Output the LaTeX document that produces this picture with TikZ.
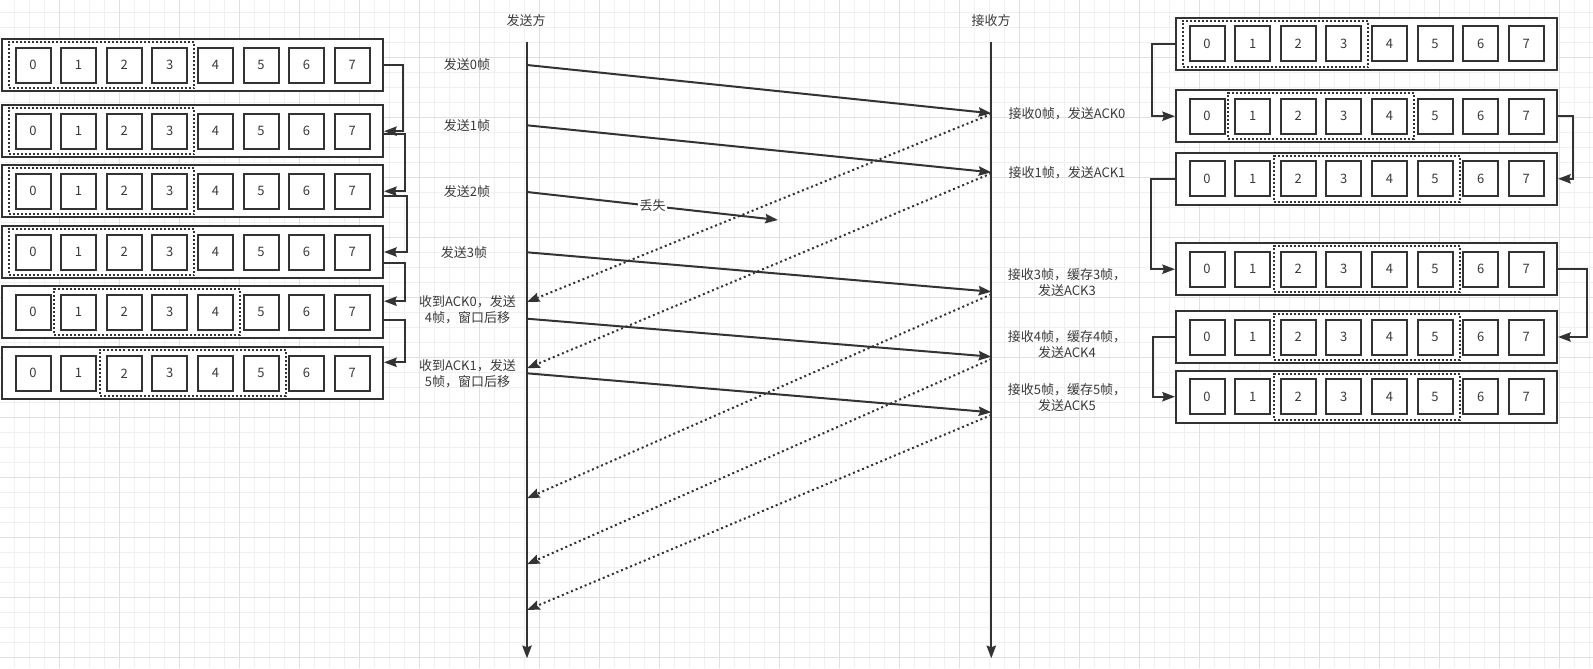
\documentclass[tikz,border=0pt]{standalone}
\usepackage{fontspec}
\setmainfont{Noto Sans CJK SC}
\usetikzlibrary{arrows.meta,fit}
\definecolor{ink}{HTML}{333333}
\definecolor{txt}{HTML}{3A3A3A}
\definecolor{gminor}{HTML}{F0F0F0}
\definecolor{gmajor}{HTML}{E0E0E0}
\newcommand{\lblfont}{\fontsize{9.75}{12}\selectfont}
\tikzset{
  outerbox/.style={draw=ink, line width=1.5pt, fill=white, minimum width=285.75pt, minimum height=39pt, inner sep=0pt},
  cell/.style={draw=ink, line width=1.5pt, fill=white, minimum size=26.25pt, inner sep=0pt, text=txt, font=\lblfont},
  winbox/.style={draw=ink, line width=1.5pt, dash pattern=on 1.5pt off 1.5pt, inner xsep=4.5pt, inner ysep=3.45pt},
  tipA/.style={-{Stealth[length=9.5pt,width=7pt,inset=1.2pt]}},
  conn/.style={draw=ink, line width=1.5pt, tipA},
  msg/.style={draw=ink, line width=1.5pt, tipA},
  ack/.style={draw=ink, line width=1.5pt, dash pattern=on 1.5pt off 2.2pt, tipA},
  lbl/.style={text=txt, font=\lblfont, inner sep=0pt, align=center},
  gridminor/.style={draw=gminor, line width=0.75pt},
  gridmajor/.style={draw=gmajor, line width=0.75pt},
}
% #1 name, #2 left x, #3 center y, #4 first in window, #5 last in window
\newcommand{\wrow}[5]{%
  \node[outerbox] (#1) at ({#2+190.5},#3) {};
  \foreach \i in {0,...,7}{\node[cell] (#1-\i) at ({#2+31+45.6*\i},#3) {\i};}
  \node[winbox, fit=(#1-#4)(#1-#5)] (#1-w) {};
}
\begin{document}
\begin{tikzpicture}[x=0.75pt,y=-0.75pt]
\useasboundingbox (0,0) rectangle (1593,668);
\fill[white] (0,0) rectangle (1593,668);
% background grid
\foreach \i in {1,...,106}{\draw[gridminor] ({15*\i-0.5},0) -- ({15*\i-0.5},668);}
\foreach \k in {0,...,43}{\draw[gridminor] (0,{12.3+15*\k}) -- (1593,{12.3+15*\k});}
\foreach \i in {1,...,26}{\draw[gridmajor] ({60*\i-0.5},0) -- ({60*\i-0.5},668);}
\foreach \k in {0,...,10}{\draw[gridmajor] (0,{57.3+60*\k}) -- (1593,{57.3+60*\k});}

% sender windows
\wrow{L1}{2}{65.2}{0}{3}
\wrow{L2}{2}{131.2}{0}{3}
\wrow{L3}{2}{191.2}{0}{3}
\wrow{L4}{2}{252}{0}{3}
\wrow{L5}{2}{312.2}{1}{4}
\wrow{L6}{2}{373.3}{2}{5}

% receiver windows
\wrow{R1}{1176}{43.8}{0}{3}
\wrow{R2}{1176}{116.2}{1}{4}
\wrow{R3}{1176}{178.8}{2}{5}
\wrow{R4}{1176}{269.2}{2}{5}
\wrow{R5}{1176}{337}{2}{5}
\wrow{R6}{1176}{396.7}{2}{5}

% sender window connectors
\draw[conn] (L1.east) -- ++(19,0) |- (L2.east);
\draw[conn] ([yshift=-2.25pt]L2.east) -- ++(21,0) |- (L3.east);
\draw[conn] ([yshift=-3.75pt]L3.east) -- ++(23,0) |- (L4.east);
\draw[conn] ([yshift=-8.25pt]L4.east) -- ++(21,0) |- ([yshift=8.25pt]L5.east);
\draw[conn] ([yshift=-6pt]L5.east) -- ++(21,0) |- ([yshift=8.25pt]L6.east);

% receiver window connectors
\draw[conn] (R1.west) -- ++(-23,0) |- (R2.west);
\draw[conn] (R2.east) -- ++(15,0) |- (R3.east);
\draw[conn] (R3.west) -- ++(-24,0) |- (R4.west);
\draw[conn] (R4.east) -- ++(29,0) |- (R5.east);
\draw[conn] (R5.west) -- ++(-22,0) |- (R6.west);

% timelines
\node[lbl] (sLbl) at (526,21) {发送方};
\node[lbl] (rLbl) at (991,21) {接收方};
\coordinate (sTop) at (527,41.7);
\coordinate (sBot) at (527,658.3);
\coordinate (rTop) at (991.3,41.7);
\coordinate (rBot) at (991.3,658.3);
\draw[msg] (sTop) -- (sBot);
\draw[msg] (rTop) -- (rBot);

% message endpoints
\coordinate (s0) at (527,65);    \coordinate (r0) at (991.3,113.3);
\coordinate (s1) at (527,125.3); \coordinate (r1) at (991.3,172.3);
\coordinate (s2) at (527,192);   \coordinate (lost) at (778,220);
\coordinate (s3) at (527,252.3); \coordinate (r3) at (991.3,291.7);
\coordinate (s4) at (527,318.7); \coordinate (r4) at (991.3,356.7);
\coordinate (s5) at (527,373.3); \coordinate (r5) at (991.3,412.3);
\coordinate (ra0) at (991.3,114); \coordinate (sa0) at (527,302);
\coordinate (ra1) at (991.3,173.3); \coordinate (sa1) at (527,368.3);
\coordinate (ra3) at (991.3,294.3); \coordinate (sa3) at (527,498.3);
\coordinate (ra4) at (991.3,359); \coordinate (sa4) at (527,564.3);
\coordinate (ra5) at (991.3,415); \coordinate (sa5) at (527,610);

% acks (dotted)
\draw[ack] (ra0) -- (sa0);
\draw[ack] (ra1) -- (sa1);
\draw[ack] (ra3) -- (sa3);
\draw[ack] (ra4) -- (sa4);
\draw[ack] (ra5) -- (sa5);

% frames
\draw[msg] (s0) -- (r0);
\draw[msg] (s1) -- (r1);
\draw[msg] (s2) -- node[lbl, fill=white, inner sep=1pt] (lostLbl) {丢失} (lost);
\draw[msg] (s3) -- (r3);
\draw[msg] (s4) -- (r4);
\draw[msg] (s5) -- (r5);

% sender labels
\node[lbl] (t0) at (467,65) {发送0帧};
\node[lbl] (t1) at (467,126) {发送1帧};
\node[lbl] (t2) at (467,192) {发送2帧};
\node[lbl] (t3) at (464,252.7) {发送3帧};
\node[lbl] (t4) at (467.5,310) {收到ACK0，发送\\4帧，窗口后移};
\node[lbl] (t5) at (467.5,373.8) {收到ACK1，发送\\5帧，窗口后移};

% receiver labels
\node[lbl] (u0) at (1067,114) {接收0帧，发送ACK0};
\node[lbl] (u1) at (1067,172.3) {接收1帧，发送ACK1};
\node[lbl] (u3) at (1067,282.9) {接收3帧，缓存3帧，\\发送ACK3};
\node[lbl] (u4) at (1067,344.7) {接收4帧，缓存4帧，\\发送ACK4};
\node[lbl] (u5) at (1067,397.9) {接收5帧，缓存5帧，\\发送ACK5};
\end{tikzpicture}
\end{document}
